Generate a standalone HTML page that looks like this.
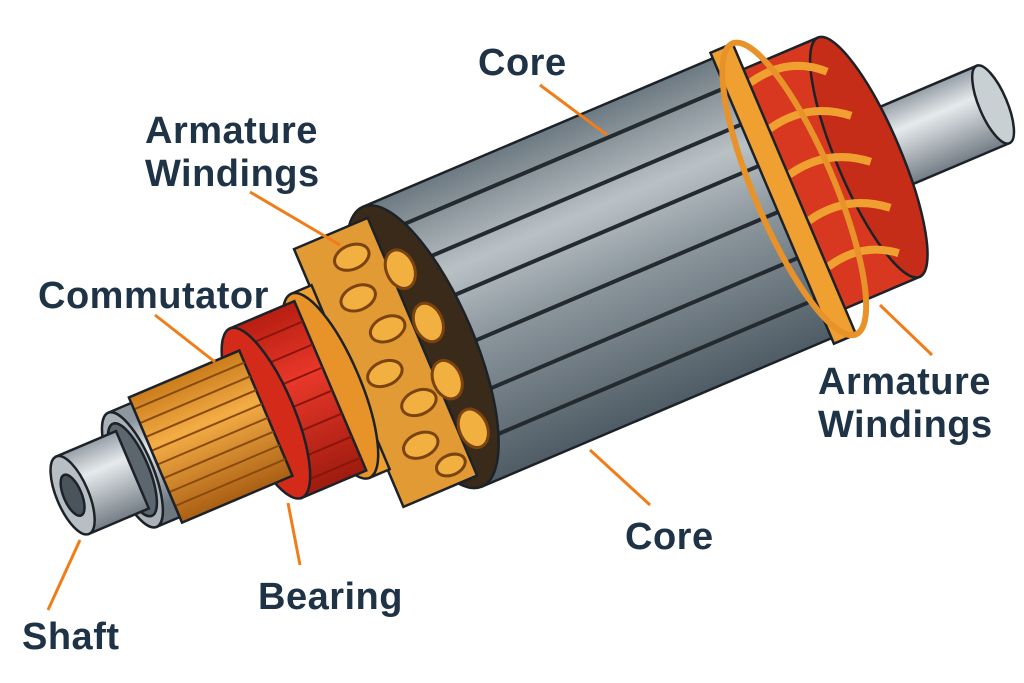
<!DOCTYPE html>
<html><head><meta charset="utf-8"><style>
html,body{margin:0;padding:0;background:#fff;}
svg{display:block}
text{font-family:"Liberation Sans",sans-serif;font-weight:bold;font-size:38px;fill:#1f3347;letter-spacing:0.5px}
</style></head><body>
<svg width="1024" height="683" viewBox="0 0 1024 683" xmlns="http://www.w3.org/2000/svg">
<defs>
<linearGradient id="gs" x1="0" y1="-45" x2="0" y2="45" gradientUnits="userSpaceOnUse"><stop offset="0" stop-color="#8d979f"/><stop offset="0.35" stop-color="#e6eaec"/><stop offset="1" stop-color="#6d7780"/></linearGradient>
<linearGradient id="gc" x1="0" y1="-150" x2="0" y2="150" gradientUnits="userSpaceOnUse"><stop offset="0" stop-color="#6f7b83"/><stop offset="0.3" stop-color="#b9c1c5"/><stop offset="0.55" stop-color="#8a959c"/><stop offset="1" stop-color="#515d66"/></linearGradient>
<linearGradient id="go" x1="0" y1="-70" x2="0" y2="70" gradientUnits="userSpaceOnUse"><stop offset="0" stop-color="#c97a1a"/><stop offset="0.4" stop-color="#f3ad45"/><stop offset="1" stop-color="#a85d12"/></linearGradient>
<linearGradient id="gr" x1="0" y1="-95" x2="0" y2="95" gradientUnits="userSpaceOnUse"><stop offset="0" stop-color="#b51d10"/><stop offset="0.4" stop-color="#e8382a"/><stop offset="1" stop-color="#9c1a0e"/></linearGradient>
</defs>
<g transform="translate(450,335) rotate(-23)" stroke="#1c2228" stroke-width="2.5">
  <rect x="440" y="-42" width="150" height="84" fill="url(#gs)"/>
  <ellipse cx="590" cy="0" rx="14" ry="42" fill="#c9d0d4"/>
  <rect x="370" y="-130" width="85" height="260" fill="#d8381f"/>
  <ellipse cx="455" cy="0" rx="32" ry="130" fill="#c62d18"/>
  <g stroke="#f0a030" stroke-width="8" fill="none">
    <path d="M375,-115 Q420,-125 450,-95"/><path d="M375,-65 Q420,-75 455,-45"/><path d="M375,-15 Q420,-25 455,5"/><path d="M375,35 Q420,25 455,55"/><path d="M375,85 Q415,75 445,100"/>
  </g>
  <rect x="-30" y="-152" width="400" height="304" fill="url(#gc)"/>
  <g stroke="#232a30" stroke-width="4">
    <line x1="-30" y1="-120" x2="370" y2="-120"/><line x1="-30" y1="-80" x2="370" y2="-80"/><line x1="-30" y1="-35" x2="370" y2="-35"/><line x1="-30" y1="15" x2="370" y2="15"/><line x1="-30" y1="65" x2="370" y2="65"/><line x1="-30" y1="110" x2="370" y2="110"/>
  </g>
  <rect x="350" y="-158" width="24" height="316" fill="#f0a030"/>
  <ellipse cx="374" cy="0" rx="40" ry="158" fill="none" stroke="#e8932a" stroke-width="6"/>
  <ellipse cx="-30" cy="0" rx="52" ry="152" fill="#3a2a1a"/>
  <rect x="-110" y="-140" width="80" height="280" fill="#e29a35"/>
  <g stroke="#7a4310" stroke-width="3" fill="#f2b040">
    <ellipse cx="-60" cy="-110" rx="18" ry="12"/><ellipse cx="-70" cy="-70" rx="18" ry="12"/><ellipse cx="-55" cy="-30" rx="18" ry="12"/><ellipse cx="-75" cy="10" rx="18" ry="12"/><ellipse cx="-55" cy="50" rx="18" ry="12"/><ellipse cx="-70" cy="90" rx="18" ry="12"/><ellipse cx="-50" cy="120" rx="15" ry="10"/>
    <ellipse cx="-20" cy="-80" rx="14" ry="20"/><ellipse cx="-15" cy="-20" rx="14" ry="20"/><ellipse cx="-20" cy="40" rx="14" ry="20"/><ellipse cx="-15" cy="95" rx="14" ry="20"/>
  </g>
  <rect x="-130" y="-100" width="22" height="200" fill="#f0a030"/>
  <ellipse cx="-130" cy="0" rx="30" ry="100" fill="#e8932a"/>
  <rect x="-200" y="-92" width="70" height="184" fill="url(#gr)"/>
  <g stroke="#8a150a" stroke-width="2">
    <line x1="-200" y1="-70" x2="-130" y2="-70"/><line x1="-200" y1="-45" x2="-130" y2="-45"/><line x1="-200" y1="-20" x2="-130" y2="-20"/><line x1="-200" y1="5" x2="-130" y2="5"/><line x1="-200" y1="30" x2="-130" y2="30"/><line x1="-200" y1="55" x2="-130" y2="55"/><line x1="-200" y1="78" x2="-130" y2="78"/>
  </g>
  <ellipse cx="-200" cy="0" rx="28" ry="92" fill="#d42a1a"/>
  <rect x="-320" y="-68" width="120" height="136" fill="url(#go)"/>
  <g stroke="#8a4a0c" stroke-width="2">
    <line x1="-320" y1="-55" x2="-200" y2="-55"/><line x1="-320" y1="-40" x2="-200" y2="-40"/><line x1="-320" y1="-25" x2="-200" y2="-25"/><line x1="-320" y1="-10" x2="-200" y2="-10"/><line x1="-320" y1="5" x2="-200" y2="5"/><line x1="-320" y1="20" x2="-200" y2="20"/><line x1="-320" y1="35" x2="-200" y2="35"/><line x1="-320" y1="50" x2="-200" y2="50"/>
  </g>
  <rect x="-345" y="-62" width="25" height="124" fill="url(#gs)"/>
  <ellipse cx="-345" cy="0" rx="20" ry="62" fill="#aab2b7"/>
  <ellipse cx="-345" cy="0" rx="16" ry="50" fill="#5c666e"/>
  <rect x="-410" y="-42" width="65" height="84" fill="url(#gs)"/>
  <ellipse cx="-410" cy="0" rx="16" ry="42" fill="#b7bfc4"/>
  <ellipse cx="-410" cy="0" rx="9" ry="22" fill="#4a545c"/>
</g>
<g stroke="#f07d1a" stroke-width="3">
  <line x1="540" y1="85" x2="607" y2="135"/>
  <line x1="250" y1="192" x2="340" y2="245"/>
  <line x1="155" y1="315" x2="215" y2="362"/>
  <line x1="932" y1="355" x2="880" y2="305"/>
  <line x1="650" y1="505" x2="590" y2="450"/>
  <line x1="300" y1="565" x2="288" y2="503"/>
  <line x1="48" y1="610" x2="80" y2="540"/>
</g>
<text x="478" y="75">Core</text>
<text x="145" y="143">Armature</text>
<text x="145" y="186">Windings</text>
<text x="38" y="308">Commutator</text>
<text x="818" y="394">Armature</text>
<text x="818" y="437">Windings</text>
<text x="625" y="549">Core</text>
<text x="258" y="609">Bearing</text>
<text x="22" y="649">Shaft</text>
</svg>
</body></html>
